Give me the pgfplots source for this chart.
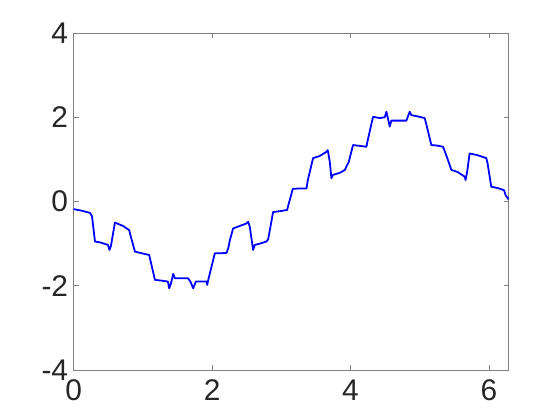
\documentclass[border=0pt]{standalone}
\usepackage{pgfplots}
\pgfplotsset{compat=1.18}
\usepackage{fontspec}
\setmainfont{Liberation Sans}
\definecolor{axgray}{RGB}{128,128,128}
\definecolor{txt}{RGB}{38,38,38}
\begin{document}
\begin{tikzpicture}
\begin{axis}[
    scale only axis,
    width=435bp, height=337bp,
    xmin=0, xmax=6.2832, ymin=-4, ymax=4,
    xtick={0,2,4,6}, ytick={-4,-2,0,2,4},
    axis line style={axgray, line width=1bp},
    tick style={axgray, line width=0.8bp},
    major tick length=5bp,
    tick align=inside,
    xtick pos=both, ytick pos=both,
    ticklabel style={font=\fontsize{30}{36}\selectfont, text=txt},
    /pgf/number format/assume math mode=true,
    xticklabel style={yshift=-6bp},
    yticklabel style={xshift=-2bp},
    clip=false,
]
\addplot[color=blue, line width=1.8pt, line join=round] coordinates {
(0.000,-0.18) (0.120,-0.22) (0.237,-0.27) (0.266,-0.35) (0.309,-0.95)
(0.381,-0.97) (0.496,-1.03) (0.518,-1.15) (0.540,-1.05) (0.597,-0.50)
(0.626,-0.52) (0.713,-0.58) (0.804,-0.68) (0.821,-0.80) (0.886,-1.19)
(0.987,-1.23) (1.092,-1.27) (1.110,-1.40) (1.175,-1.86) (1.276,-1.88)
(1.362,-1.90) (1.381,-2.06) (1.405,-1.95) (1.439,-1.72) (1.463,-1.82)
(1.564,-1.82) (1.651,-1.82) (1.687,-1.90) (1.727,-2.06) (1.766,-1.90)
(1.838,-1.90) (1.921,-1.90) (1.929,-1.98) (1.954,-1.80) (2.040,-1.23)
(2.113,-1.23) (2.209,-1.22) (2.235,-1.10) (2.257,-0.92) (2.304,-0.64)
(2.401,-0.58) (2.498,-0.52) (2.521,-0.48) (2.545,-0.60) (2.593,-1.15)
(2.617,-1.03) (2.690,-1.00) (2.786,-0.95) (2.810,-0.90) (2.882,-0.25)
(2.978,-0.23) (3.084,-0.20) (3.108,-0.05) (3.166,0.30) (3.267,0.31)
(3.364,0.31) (3.382,0.50) (3.459,1.03) (3.555,1.08) (3.652,1.18)
(3.671,1.22) (3.700,0.95) (3.724,0.55) (3.743,0.63) (3.844,0.68)
(3.920,0.75) (3.945,0.85) (3.973,0.93) (4.036,1.34) (4.133,1.32)
(4.229,1.30) (4.248,1.45) (4.325,2.01) (4.422,1.98) (4.494,2.00)
(4.518,2.13) (4.537,2.00) (4.566,1.78) (4.590,1.92) (4.710,1.92)
(4.807,1.92) (4.825,2.00) (4.854,2.13) (4.879,2.05) (4.970,2.02)
(5.071,1.98) (5.100,1.80) (5.167,1.34) (5.244,1.33) (5.335,1.30)
(5.360,1.20) (5.404,1.00) (5.456,0.75) (5.547,0.70) (5.648,0.59)
(5.662,0.51) (5.684,0.70) (5.720,1.14) (5.835,1.10) (5.961,1.03)
(5.980,0.90) (6.033,0.35) (6.124,0.32) (6.216,0.27) (6.240,0.15)
(6.283,0.05)
};
\end{axis}
\path[use as bounding box] (-73.6bp,-50bp) rectangle (486.4bp,370bp);
\end{tikzpicture}
\end{document}
